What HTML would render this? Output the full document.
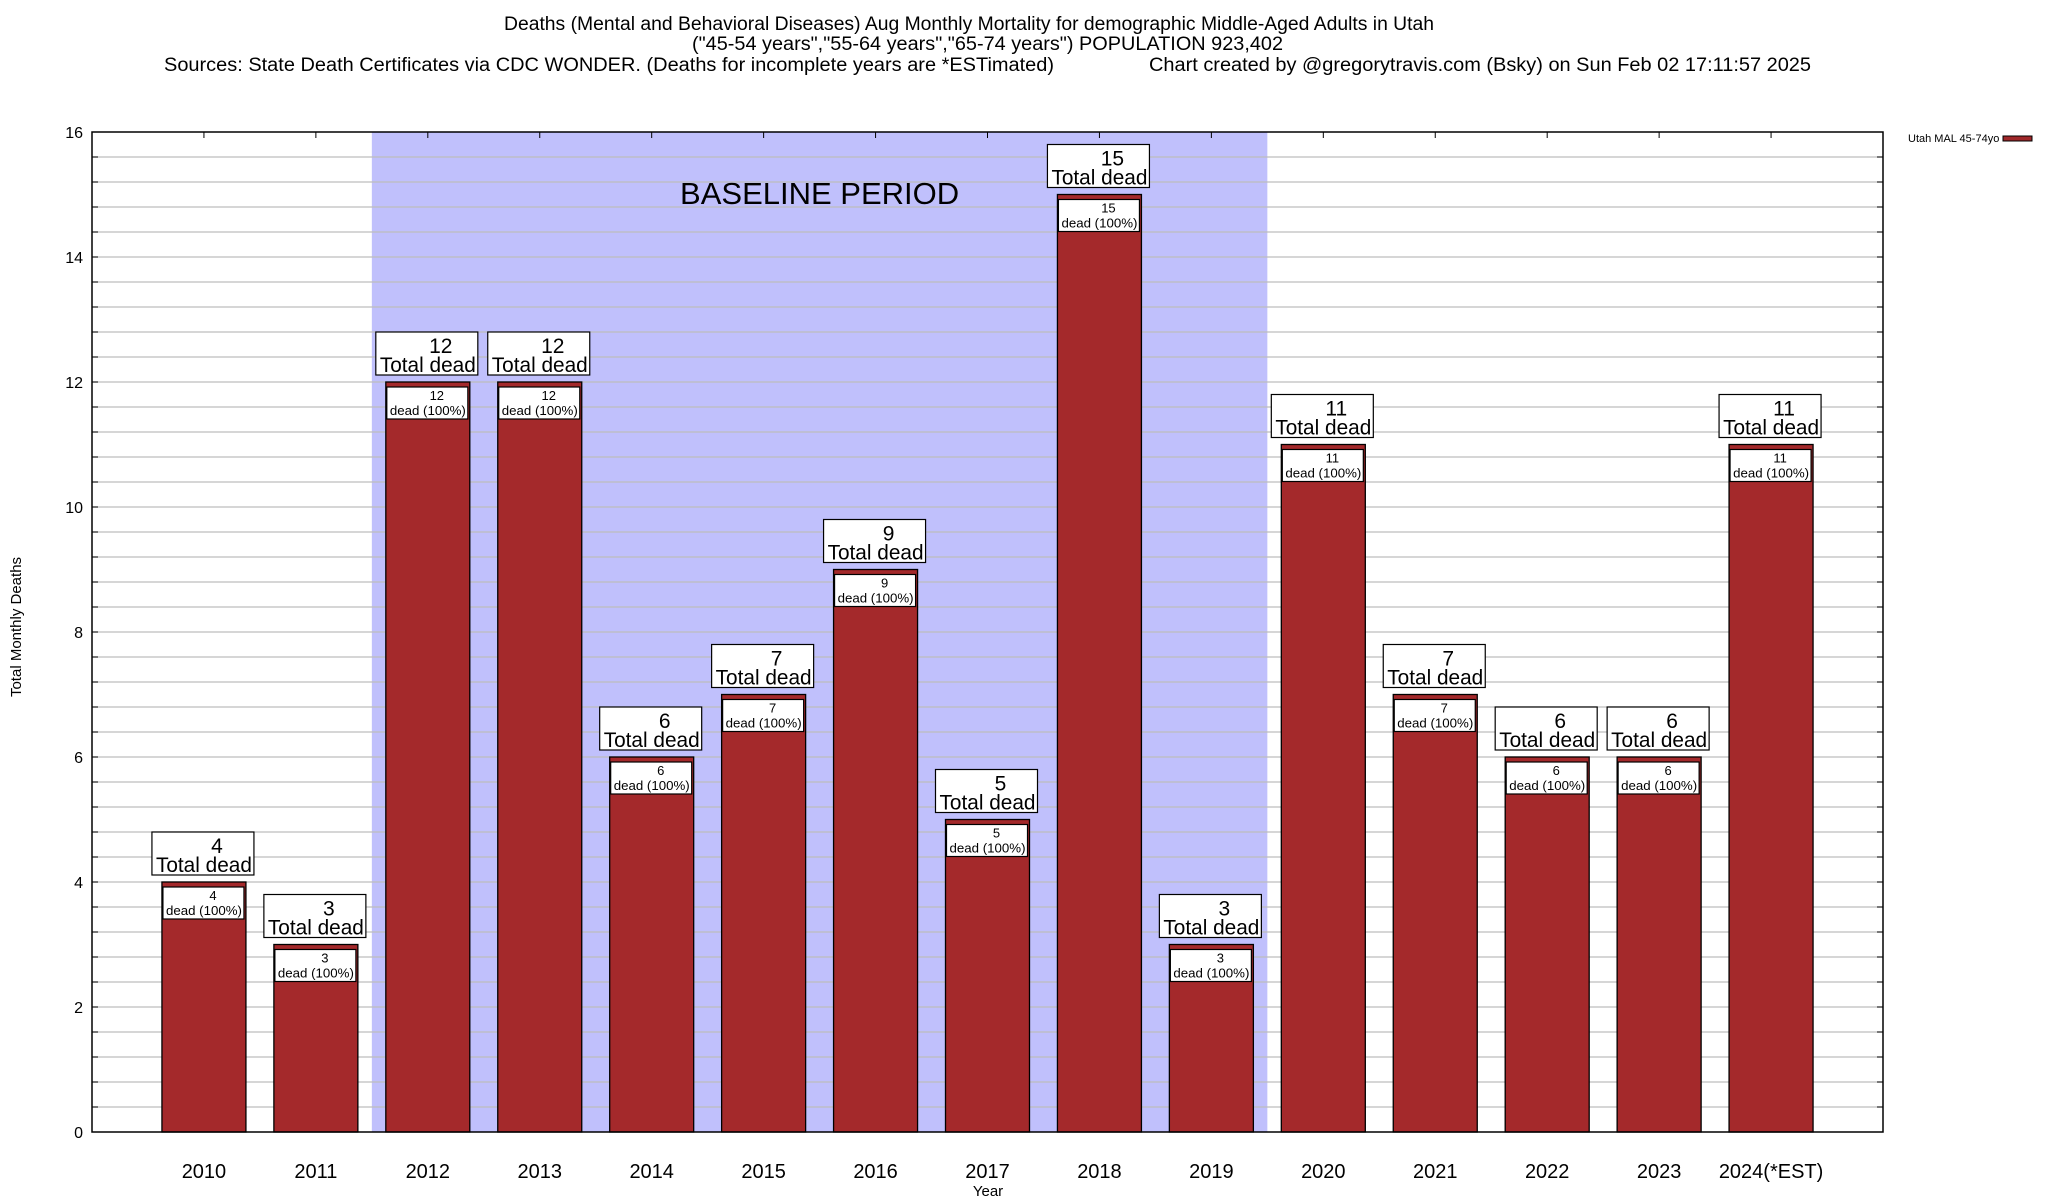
<!DOCTYPE html>
<html><head><meta charset="utf-8"><style>html,body{margin:0;padding:0;background:#fff}svg{display:block}text{font-family:"Liberation Sans",sans-serif}</style></head>
<body>
<svg id="chart" width="2048" height="1200" viewBox="0 0 2048 1200" xmlns="http://www.w3.org/2000/svg">
<g font-size="19" fill="#000">
<text x="504" y="30" textLength="930" lengthAdjust="spacingAndGlyphs">Deaths (Mental and Behavioral Diseases) Aug Monthly Mortality for demographic Middle-Aged Adults in Utah</text>
<text x="692" y="50" textLength="591" lengthAdjust="spacingAndGlyphs">("45-54 years","55-64 years","65-74 years") POPULATION 923,402</text>
<text x="164" y="71" textLength="890" lengthAdjust="spacingAndGlyphs">Sources: State Death Certificates via CDC WONDER. (Deaths for incomplete years are *ESTimated)</text>
<text x="1149" y="71" textLength="662" lengthAdjust="spacingAndGlyphs">Chart created by @gregorytravis.com (Bsky) on Sun Feb 02 17:11:57 2025</text>
</g>
<g id="plot"></g>
<text transform="translate(21,627) rotate(-90)" text-anchor="middle" font-size="15">Total Monthly Deaths</text>
<text x="988" y="1196" text-anchor="middle" font-size="15">Year</text>
<g>
<text x="1908" y="142" font-size="11">Utah MAL 45-74yo</text>
<rect x="2003" y="136" width="29" height="5" fill="#a0282a" stroke="#000" stroke-width="1"/>
</g>
</svg>
<script>
const categories=["2010","2011","2012","2013","2014","2015","2016","2017","2018","2019","2020","2021","2022","2023","2024(*EST)"];
const deaths=[4,3,12,12,6,7,9,5,15,3,11,7,6,6,11];
const yTicks=[0,2,4,6,8,10,12,14,16];
const baselineStart="2012", baselineEnd="2019";
const NS="http://www.w3.org/2000/svg";
const L=92,R=1883,T=132,B=1132,YMAX=16;
const slot=(R-L)/(categories.length+1);
const x=i=>L+slot*(i+1);
const y=v=>B-(v/YMAX)*(B-T);
const g=document.getElementById('plot');
function mk(tag,attrs,parent){const e=document.createElementNS(NS,tag);for(const k in attrs)e.setAttribute(k,attrs[k]);(parent||g).appendChild(e);return e;}
const bi=categories.indexOf(baselineStart),be=categories.indexOf(baselineEnd);
const sh=mk('rect',{x:x(bi)-slot/2,y:T,width:x(be)-x(bi)+slot,height:B-T,fill:'#c0c0fc'});


const bt=mk('text',{x:(x(bi)+x(be))/2,y:204,'text-anchor':'middle','font-size':31});
bt.textContent='BASELINE PERIOD';


for(let v=0.4;v<YMAX-0.01;v+=0.4){
 const gl=mk('line',{x1:L,x2:R,y1:y(v),y2:y(v),stroke:'#bdbdbd','stroke-width':1.2});
 
 
 mk('line',{x1:L,x2:L+6,y1:y(v),y2:y(v),stroke:'#000'});
 mk('line',{x1:R-6,x2:R,y1:y(v),y2:y(v),stroke:'#000'});
}
yTicks.forEach(v=>{
 const t=mk('text',{x:83,y:y(v)+6,'text-anchor':'end','font-size':16});
 t.textContent=v;
 
 
});
categories.forEach((c,i)=>{
 const cx=x(i),v=deaths[i],top=y(v),bw=84;
 mk('line',{x1:cx,x2:cx,y1:T,y2:T+6,stroke:'#000'});
 const b=mk('rect',{x:cx-bw/2,y:top,width:bw,height:B-top,fill:'#a4292b',stroke:'#000','stroke-width':1.3});
 
 
 const ib=mk('rect',{x:cx-41,y:top+5,width:81,height:32,fill:'#fff',stroke:'#000','stroke-width':1.2});
 
 
 const t1=mk('text',{x:cx+9,y:top+18,'text-anchor':'middle','font-size':13});t1.textContent=v;
 const t2=mk('text',{x:cx,y:top+33,'text-anchor':'middle','font-size':13,textLength:76,lengthAdjust:'spacingAndGlyphs'});t2.textContent='dead (100%)';
 const ob=mk('rect',{x:cx-52,y:top-50,width:102,height:43,fill:'#fff',stroke:'#000','stroke-width':1.2});
 
 
 const t3=mk('text',{x:cx+13,y:top-29,'text-anchor':'middle','font-size':21});t3.textContent=v;
 const t4=mk('text',{x:cx,y:top-10,'text-anchor':'middle','font-size':21,textLength:96,lengthAdjust:'spacingAndGlyphs'});t4.textContent='Total dead';
 const xl=mk('text',{x:cx,y:1178,'text-anchor':'middle','font-size':20});xl.textContent=c;
 
 
});
const fr=mk('rect',{x:L,y:T,width:R-L,height:B-T,fill:'none',stroke:'#000','stroke-width':1.5});


</script>
</body></html>
